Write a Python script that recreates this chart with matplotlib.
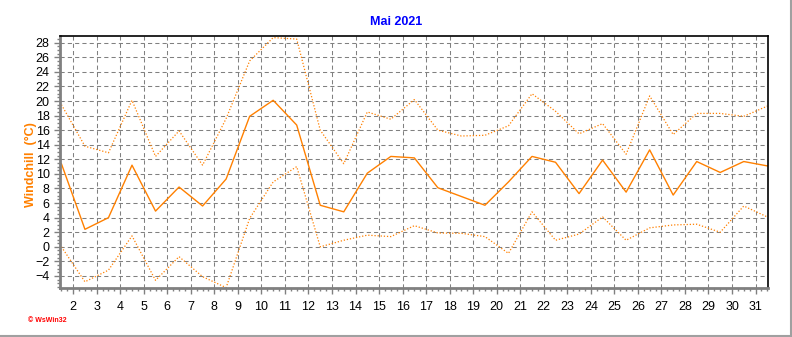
import numpy as np
import matplotlib
matplotlib.use('Agg')
import matplotlib.pyplot as plt
from matplotlib.ticker import MultipleLocator
from matplotlib.lines import Line2D

plt.rcParams['font.family'] = ['Liberation Sans', 'DejaVu Sans']

# Windchill Mai 2021
tage = np.arange(1, 32)
windchill = [11.4, 2.4, 4.0, 11.2, 4.9, 8.2, 5.6, 9.3, 17.9, 20.1, 16.7, 5.7, 4.8, 10.1, 12.4, 12.2,
             8.1, 6.9, 5.7, 8.9, 12.4, 11.6, 7.3, 11.9, 7.5, 13.3, 7.1, 11.7, 10.2, 11.7, 11.1]
windchill_max = [19.5, 13.8, 12.9, 20.1, 12.4, 15.9, 11.2, 17.6, 25.5, 28.7, 28.5, 16.0, 11.4, 18.5, 17.5, 20.2,
                 16.0, 15.2, 15.3, 16.6, 21.0, 18.6, 15.5, 16.9, 12.7, 20.7, 15.4, 18.3, 18.3, 17.9, 19.3]
windchill_min = [0.0, -4.8, -3.2, 1.5, -4.6, -1.35, -4.1, -5.6, 3.9, 8.9, 11.0, 0.0, 0.9, 1.6, 1.4, 2.9,
                 1.9, 1.85, 1.4, -0.9, 4.8, 0.9, 1.75, 4.1, 0.9, 2.6, 3.0, 3.1, 2.0, 5.6, 4.1]

orange = '#FF8000'
grau = '#808080'

fig = plt.figure(figsize=(7.92, 3.37), dpi=100)
ax = fig.add_axes([60/792, 1-288/337, 708/792, 252/337])

x = tage + 0.5
ax.plot(x, windchill, color=orange, lw=1.0)
ax.plot(x, windchill_max, color=orange, lw=0.9, dashes=(1, 1.5))
ax.plot(x, windchill_min, color=orange, lw=0.9, dashes=(1, 1.5))

ax.set_xlim(1.44, 31.53)
ax.set_ylim(-5.65, 28.92)
ax.set_xticks(range(2, 32))
ax.set_yticks(range(-4, 29, 2))
ax.xaxis.set_minor_locator(MultipleLocator(0.25))
ax.yaxis.set_minor_locator(MultipleLocator(0.5))

ax.grid(True, which='major', color=grau, lw=0.75, dashes=(4, 3))
ax.tick_params(axis='both', which='major', labelsize=9, colors=grau, labelcolor='black', length=4, width=1)
ax.tick_params(axis='both', which='minor', colors=grau, length=2, width=1)
ax.tick_params(axis='x', pad=5)

for s in ['left', 'bottom']:
    ax.spines[s].set_color(grau)
    ax.spines[s].set_linewidth(2)
for s in ['top', 'right']:
    ax.spines[s].set_color('black')
    ax.spines[s].set_linewidth(1.2)

ax.set_ylabel('Windchill  (°C)', color=orange, fontweight='bold', fontsize=9)
ax.yaxis.set_label_coords(-0.033, 0.488)

fig.text(0.5, 1-22/337, 'Mai 2021', color='#0000FF', fontweight='bold', fontsize=9, ha='center', va='center')
fig.text(28/792, 1-321/337, '© WsWin32', color='red', fontsize=5, fontweight='bold', va='center')

fig.add_artist(Line2D([0, 1], [1.5/337, 1.5/337], color='#A0A0A0', lw=1.5, transform=fig.transFigure))
fig.add_artist(Line2D([1-1.5/792, 1-1.5/792], [0, 1], color='#A0A0A0', lw=1.5, transform=fig.transFigure))

plt.savefig('out.png', dpi=100)
